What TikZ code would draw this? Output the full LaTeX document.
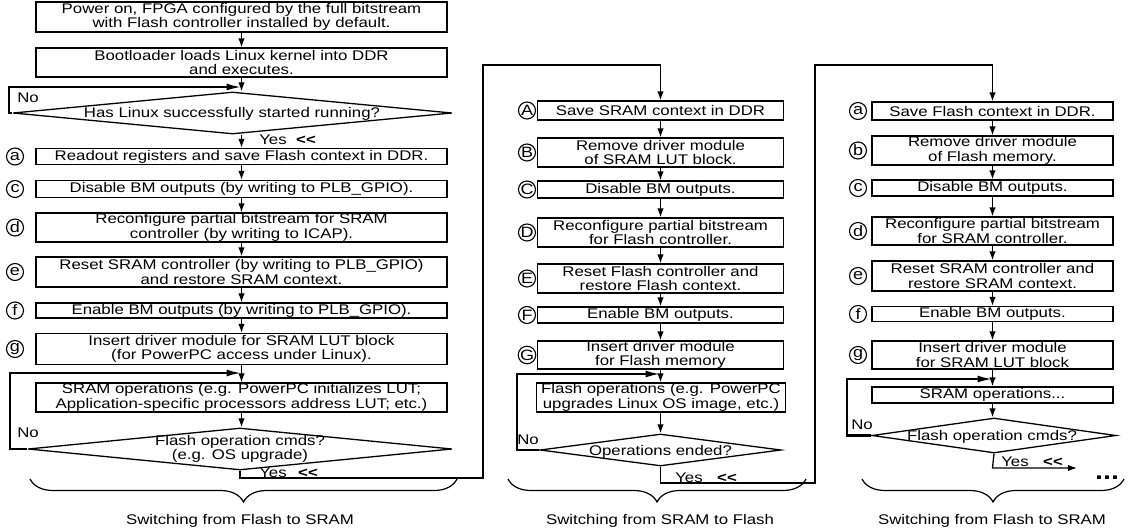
\documentclass[tikz,border=0pt]{standalone}
\usepackage{fontspec}
\setmainfont[FakeStretch=1.2]{Liberation Sans}
\usetikzlibrary{arrows.meta,shapes.geometric,decorations.pathreplacing}
\newcommand{\llt}{\textbf{\mbox{<}\mbox{<}}}
\begin{document}
\begin{tikzpicture}[x=1pt,y=-1pt,
  font=\fontsize{14}{14.5}\selectfont,
  box/.style={draw, line width=1.3pt, rectangle, inner sep=0pt, align=center},
  lbox/.style={box, minimum width=411},
  mbox/.style={box, minimum width=246},
  rbox/.style={box, minimum width=241},
  dia/.style={draw, line width=1.3pt, diamond, inner sep=0pt},
  circ/.style={draw, circle, line width=1.1pt, inner sep=0pt, minimum size=17, font=\fontsize{15}{15}\selectfont},
  txt/.style={inner sep=0pt, align=center},
  arr/.style={line width=1.3pt, -{Latex[length=9pt,width=6.5pt]}},
  connarr/.style={line width=1.3pt, -{Latex[length=9pt,width=6.5pt]}},
  loopl/.style={line width=2.2pt, -{Latex[length=15pt,width=7pt]}},
  bracel/.style={line width=1.2pt, decorate, decoration={brace, mirror, amplitude=23pt}}
]
\useasboundingbox (0,0) rectangle (1128,531);

% ---------- left column ----------
\node[lbox, minimum height=30] (L1) at (241.5,17) {Power on, FPGA configured by the full bitstream\\with Flash controller installed by default.};
\node[lbox, minimum height=29] (L2) at (241.5,62.5) {Bootloader loads Linux kernel into DDR\\and executes.};
\node[dia, minimum width=439, minimum height=42] (LD1) at (232.5,113) {};
\node[txt] (LD1t) at (232,114) {Has Linux successfully started running?};
\node[lbox, minimum height=16] (La) at (241.5,156.5) {Readout registers and save Flash context in DDR.};
\node[lbox, minimum height=17] (Lc) at (241.5,189) {Disable BM outputs (by writing to PLB\_GPIO).};
\node[lbox, minimum height=29] (Ld) at (241.5,227.5) {Reconfigure partial bitstream for SRAM\\controller (by writing to ICAP).};
\node[lbox, minimum height=30] (Le) at (241.5,272) {Reset SRAM controller (by writing to PLB\_GPIO)\\and restore SRAM context.};
\node[lbox, minimum height=15] (Lf) at (241.5,310.5) {Enable BM outputs (by writing to PLB\_GPIO).};
\node[lbox, minimum height=31] (Lg) at (241.5,349) {Insert driver module for SRAM LUT block\\(for PowerPC access under Linux).};
\node[lbox, minimum height=29] (Lops) at (241.5,397.5) {SRAM operations (e.g. PowerPC initializes LUT;\\Application-specific processors address LUT; etc.)};
\node[dia, minimum width=424, minimum height=42] (LD2) at (240,449) {};
\node[txt] (LD2t) at (240,449) {Flash operation cmds?\\(e.g. OS upgrade)};

\node[circ] (cLa) at (15,156.5) {a};
\node[circ] (cLc) at (15,189) {c};
\node[circ] (cLd) at (15,227.5) {d};
\node[circ] (cLe) at (15,272) {e};
\node[circ] (cLf) at (15,310.5) {f};
\node[circ] (cLg) at (15,349) {g};

\coordinate (J1) at (241.5,87);
\coordinate (J2) at (241.5,373);
\draw[arr] (L1) -- (L2);
\draw[arr] (L2.south) -- (L2.south |- LD1.north);
\draw[arr] (L2.south |- LD1.south) -- (La.north);
\draw[arr] (La) -- (Lc);
\draw[arr] (Lc) -- (Ld);
\draw[arr] (Ld) -- (Le);
\draw[arr] (Le) -- (Lf);
\draw[arr] (Lf) -- (Lg);
\draw[arr] (Lg) -- (Lops);
\draw[arr] (Lops.south) -- (Lops.south |- LD2.north);
\draw[loopl] (LD1.west) -- ++(-3,0) |- (J1);
\draw[loopl] (LD2.west) -- ++(-17,0) |- (J2);

\node[txt] (LNo1) at (28,98) {No};
\node[txt] (LYes1) at (273,140) {Yes};
\node[txt] (LLt1) at (306,140) {\llt};
\node[txt] (LNo2) at (28,433) {No};
\node[txt] (LYes2) at (273,473) {Yes};
\node[txt] (LLt2) at (308,473) {\llt};

% ---------- middle column ----------
\node[mbox, minimum height=19] (MA) at (660.5,110.5) {Save SRAM context in DDR};
\node[mbox, minimum height=29] (MB) at (660.5,152.5) {Remove driver module\\of SRAM LUT block.};
\node[mbox, minimum height=17] (MC) at (660.5,189.5) {Disable BM outputs.};
\node[mbox, minimum height=29] (MD) at (660.5,232.5) {Reconfigure partial bitstream\\for Flash controller.};
\node[mbox, minimum height=29] (ME) at (660.5,278.5) {Reset Flash controller and\\restore Flash context.};
\node[mbox, minimum height=16] (MF) at (660.5,315) {Enable BM outputs.};
\node[mbox, minimum height=28] (MG) at (660.5,355) {Insert driver module\\for Flash memory};
\node[mbox, minimum width=249, minimum height=29] (Mops) at (661,397.5) {Flash operations (e.g. PowerPC\\upgrades Linux OS image, etc.)};
\node[dia, minimum width=241, minimum height=32] (MD3) at (660.5,450) {};
\node[txt] (MD3t) at (660.5,452) {Operations ended?};

\node[circ] (cMA) at (527,110.5) {A};
\node[circ] (cMB) at (527,152.5) {B};
\node[circ] (cMC) at (527,189.5) {C};
\node[circ] (cMD) at (527,232.5) {D};
\node[circ] (cME) at (527,278.5) {E};
\node[circ] (cMF) at (527,315) {F};
\node[circ] (cMG) at (527,355) {G};

\coordinate (J3) at (660.5,374);
\draw[arr] (MA) -- (MB);
\draw[arr] (MB) -- (MC);
\draw[arr] (MC) -- (MD);
\draw[arr] (MD) -- (ME);
\draw[arr] (ME) -- (MF);
\draw[arr] (MF) -- (MG);
\draw[arr] (MG.south) -- (MG.south |- Mops.north);
\draw[arr] (MG.south |- Mops.south) -- (MD3.north);
\draw[loopl] (MD3.west) -- ++(-22,0) |- (J3);

\node[txt] (MNo) at (528,440) {No};
\node[txt] (MYes) at (689,478) {Yes};
\node[txt] (MLt) at (727,478) {\llt};

% ---------- right column ----------
\node[rbox, minimum height=18] (Ra) at (992.5,111) {Save Flash context in DDR.};
\node[rbox, minimum height=29] (Rb) at (992.5,150.5) {Remove driver module\\of Flash memory.};
\node[rbox, minimum height=16] (Rc) at (992.5,188) {Disable BM outputs.};
\node[rbox, minimum height=28] (Rd) at (992.5,231) {Reconfigure partial bitstream\\for SRAM controller.};
\node[rbox, minimum height=30] (Re) at (992.5,276) {Reset SRAM controller and\\restore SRAM context.};
\node[rbox, minimum height=15] (Rf) at (992.5,314) {Enable BM outputs.};
\node[rbox, minimum height=28] (Rg) at (992.5,355) {Insert driver module\\for SRAM LUT block};
\node[rbox, minimum height=16] (Rops) at (992.5,395) {SRAM operations...};
\node[dia, minimum width=244, minimum height=35] (RD4) at (994,435.5) {};
\node[txt] (RD4t) at (992,437) {Flash operation cmds?};

\node[circ] (cRa) at (858,111) {a};
\node[circ] (cRb) at (858,150.5) {b};
\node[circ] (cRc) at (858,188) {c};
\node[circ] (cRd) at (858,231) {d};
\node[circ] (cRe) at (858,276) {e};
\node[circ] (cRf) at (858,314) {f};
\node[circ] (cRg) at (858,355) {g};

\coordinate (J4) at (992.5,379);
\draw[arr] (Ra) -- (Rb);
\draw[arr] (Rb) -- (Rc);
\draw[arr] (Rc) -- (Rd);
\draw[arr] (Rd) -- (Re);
\draw[arr] (Re) -- (Rf);
\draw[arr] (Rf) -- (Rg);
\draw[arr] (Rg) -- (Rops);
\draw[arr] (Rops.south) -- (Rops.south |- RD4.north);
\draw[loopl] (RD4.west) -- ++(-24,0) |- (J4);

\node[txt] (RNo) at (862,425) {No};
\node[txt] (RYes) at (1015,462) {Yes};
\node[txt] (RLt) at (1053,462) {\llt};
\node[txt] (Rdots) at (1107,478) {\fontsize{24}{24}\selectfont\bfseries ...};

% ---------- connections between columns ----------
\coordinate (Y1) at (240,478);
\coordinate (T1) at (483,65);
\draw[connarr] (LD2.south) -- (Y1) -| (T1) -| (MA.north);
\coordinate (Y2) at (660.5,483);
\coordinate (T2) at (815,65);
\draw[connarr] (MD3.south) -- (Y2) -| (T2) -| (Ra.north);
\coordinate (Y3) at (992.5,468);
\coordinate (E3) at (1077,468);
\draw[connarr] (RD4.south) -- (Y3) -- (E3);

% ---------- braces ----------
\coordinate (B1a) at (30,479);
\coordinate (B1b) at (457,479);
\coordinate (B2a) at (508,479);
\coordinate (B2b) at (806,479);
\coordinate (B3a) at (862,479);
\coordinate (B3b) at (1124,479);
\draw[bracel] (B1a) -- (B1b);
\draw[bracel] (B2a) -- (B2b);
\draw[bracel] (B3a) -- (B3b);
\node[txt] (S1) at (240,521) {Switching from Flash to SRAM};
\node[txt] (S2) at (660,521) {Switching from SRAM to Flash};
\node[txt] (S3) at (992,521) {Switching from Flash to SRAM};
\end{tikzpicture}
\end{document}
